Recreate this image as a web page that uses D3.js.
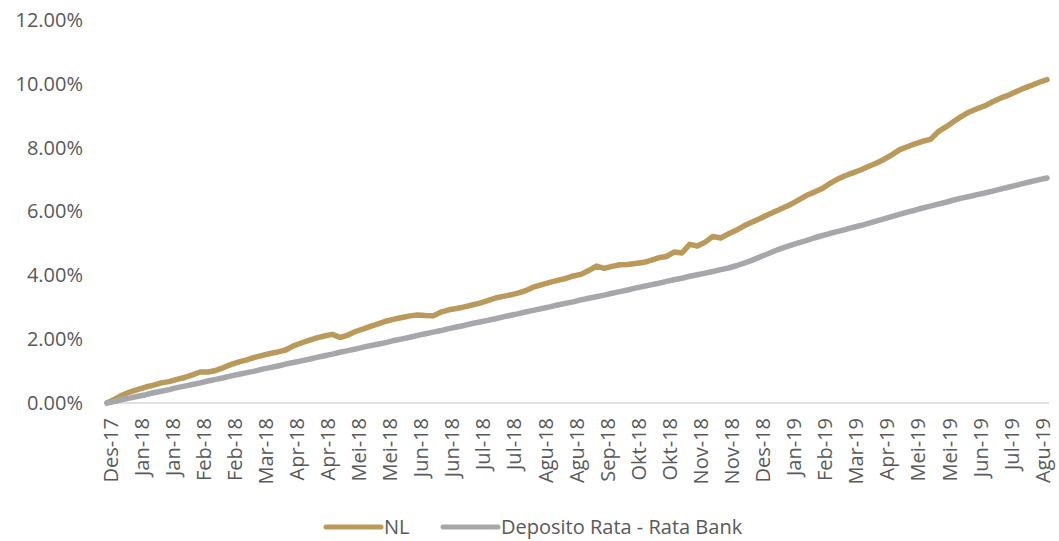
<!DOCTYPE html>
<html>
<head>
<meta charset="utf-8">
<script src="https://cdn.jsdelivr.net/npm/d3@7"></script>
<style>
  body { margin: 0; background: #fff; }
  text { font-family: 'Open Sans', 'Liberation Sans', sans-serif; fill: #595959; }
</style>
</head>
<body>
<script>
// tick labels, one every 4 observations
var labels = ['Des-17', 'Jan-18', 'Jan-18', 'Feb-18', 'Feb-18', 'Mar-18', 'Apr-18', 'Apr-18',
  'Mei-18', 'Mei-18', 'Jun-18', 'Jun-18', 'Jul-18', 'Jul-18', 'Agu-18', 'Agu-18', 'Sep-18',
  'Okt-18', 'Okt-18', 'Nov-18', 'Nov-18', 'Des-18', 'Jan-19', 'Feb-19', 'Mar-19', 'Apr-19',
  'Mei-19', 'Mei-19', 'Jun-19', 'Jul-19', 'Agu-19']

var seriesNames = ['NL', 'Deposito Rata - Rata Bank']

// cumulative return, %
var nl = [0.00, 0.12, 0.25, 0.35, 0.43, 0.50, 0.56, 0.63, 0.67, 0.74,
  0.80, 0.88, 0.97, 0.97, 1.02, 1.11, 1.21, 1.29, 1.35, 1.43,
  1.49, 1.55, 1.60, 1.66, 1.79, 1.88, 1.96, 2.04, 2.10, 2.15,
  2.05, 2.13, 2.24, 2.32, 2.41, 2.49, 2.57, 2.63, 2.68, 2.73,
  2.76, 2.74, 2.73, 2.85, 2.92, 2.96, 3.01, 3.07, 3.13, 3.21,
  3.29, 3.34, 3.39, 3.45, 3.53, 3.64, 3.71, 3.78, 3.84, 3.90,
  3.98, 4.03, 4.15, 4.29, 4.22, 4.28, 4.33, 4.34, 4.37, 4.40,
  4.47, 4.55, 4.59, 4.73, 4.70, 4.97, 4.92, 5.04, 5.22, 5.17,
  5.30, 5.41, 5.55, 5.66, 5.77, 5.89, 6.00, 6.11, 6.22, 6.36,
  6.50, 6.60, 6.71, 6.87, 7.01, 7.12, 7.21, 7.30, 7.41, 7.51,
  7.63, 7.77, 7.93, 8.03, 8.12, 8.20, 8.26, 8.50, 8.65, 8.82,
  8.98, 9.12, 9.22, 9.31, 9.44, 9.55, 9.64, 9.75, 9.86, 9.95,
  10.05, 10.13]

var deposito = [0.00, 0.05, 0.11, 0.16, 0.21, 0.26, 0.32, 0.37, 0.42, 0.48,
  0.53, 0.58, 0.63, 0.69, 0.74, 0.79, 0.85, 0.90, 0.95, 1.00,
  1.06, 1.11, 1.16, 1.22, 1.27, 1.32, 1.37, 1.43, 1.48, 1.53,
  1.59, 1.64, 1.69, 1.75, 1.80, 1.85, 1.90, 1.96, 2.01, 2.06,
  2.12, 2.17, 2.22, 2.27, 2.33, 2.38, 2.43, 2.49, 2.54, 2.59,
  2.64, 2.70, 2.75, 2.80, 2.86, 2.91, 2.96, 3.01, 3.07, 3.12,
  3.17, 3.23, 3.28, 3.33, 3.38, 3.44, 3.49, 3.54, 3.60, 3.65,
  3.70, 3.75, 3.81, 3.86, 3.91, 3.97, 4.02, 4.07, 4.12, 4.18,
  4.23, 4.30, 4.38, 4.47, 4.57, 4.67, 4.77, 4.86, 4.94, 5.02,
  5.09, 5.17, 5.24, 5.31, 5.37, 5.43, 5.50, 5.56, 5.63, 5.70,
  5.77, 5.84, 5.91, 5.98, 6.04, 6.11, 6.17, 6.23, 6.29, 6.36,
  6.42, 6.47, 6.53, 6.58, 6.64, 6.70, 6.76, 6.82, 6.88, 6.94,
  7.00, 7.05]

var yTicks = [0, 2, 4, 6, 8, 10, 12]

var colors = ['#B99A5B', '#A5A7AA']

var width = 1059
var height = 541

var svg = d3.select('body').append('svg')
  .attr('width', width)
  .attr('height', height)

var x = d3.scaleLinear()
  .domain([0, nl.length - 1])
  .range([107, 1047])

var y = d3.scaleLinear()
  .domain([0, 12])
  .range([403, 20])

// y axis labels, no line
svg.append('g')
  .attr('transform', 'translate(107,0)')
  .call(d3.axisLeft(y)
    .tickValues(yTicks)
    .tickSize(0)
    .tickPadding(24)
    .tickFormat(function (d) { return d.toFixed(2) + '%' }))
  .call(function (g) { g.select('.domain').remove() })
  .selectAll('text')
  .style('font-size', '20px')
  .attr('fill', '#595959')

// x axis
var xAxis = svg.append('g')
  .attr('transform', 'translate(0,' + y(0) + ')')
  .call(d3.axisBottom(x)
    .tickValues(labels.map(function (d, i) { return i * 4 }))
    .tickSize(0)
    .tickFormat(function (d) { return labels[d / 4] }))

xAxis.select('.domain')
  .attr('d', 'M107,0H1049')
  .attr('stroke', '#D9D9D9')
  .attr('stroke-width', 1.5)

xAxis.selectAll('text')
  .style('font-size', '20px')
  .attr('fill', '#595959')
  .attr('text-anchor', 'end')
  .attr('transform', 'rotate(-90)')
  .attr('x', -15)
  .attr('y', 3)
  .attr('dy', '0.35em')

var line = d3.line()
  .x(function (d, i) { return x(i) })
  .y(function (d) { return y(d) })

;[nl, deposito].forEach(function (s, k) {
  svg.append('path')
    .datum(s)
    .attr('fill', 'none')
    .attr('stroke', colors[k])
    .attr('stroke-width', 5.5)
    .attr('stroke-linejoin', 'round')
    .attr('stroke-linecap', 'round')
    .attr('d', line)
})

// legend
var legendX = [326, 443]
var legend = svg.append('g')
  .attr('transform', 'translate(0,527)')

seriesNames.forEach(function (name, k) {
  legend.append('line')
    .attr('x1', legendX[k])
    .attr('x2', legendX[k] + 55)
    .attr('stroke', colors[k])
    .attr('stroke-width', 5)
    .attr('stroke-linecap', 'round')
  legend.append('text')
    .attr('x', legendX[k] + 58)
    .attr('dy', '0.35em')
    .style('font-size', '20px')
    .text(name)
})
</script>
</body>
</html>
